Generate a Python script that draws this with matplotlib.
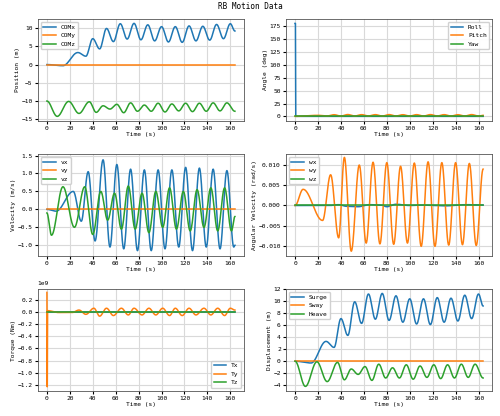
import matplotlib
matplotlib.use("Agg")
import matplotlib.pyplot as plt
import numpy as np

plt.rcParams["font.family"] = ["DejaVu Sans Mono"]
plt.rcParams["font.size"] = 4.5

# ── 数据：各曲线的极值点 (时间, 数值) ────────────────────────
comx_t = [0, 14, 27, 34, 40, 46, 52, 58, 64, 70, 76, 82, 88, 94, 100, 106, 112, 118, 124, 130, 136, 142, 148, 154, 160, 164]
comx_v = [0, -0.3, 3.3, 2.3, 7.1, 4.3, 9.9, 6.3, 11.2, 7.0, 11.3, 6.8, 10.9, 6.5, 10.4, 6.2, 10.4, 6.1, 10.6, 6.5, 10.5, 6.7, 11.0, 7.1, 11.2, 9.2]
heave_t = [0, 9, 19, 28, 37, 43, 49, 55, 61, 67, 73, 79, 85, 91, 97, 103, 109, 115, 121, 127, 133, 139, 145, 151, 157, 164]
heave_v = [0, -4.2, -0.1, -3.4, -0.2, -3.1, -1.3, -2.2, -0.9, -3.2, -0.5, -2.8, -1.1, -2.8, -0.6, -3.0, -0.8, -2.7, -0.6, -2.9, -0.6, -2.8, -0.5, -2.7, -0.5, -2.8]
vx_t = [0, 8, 23, 30, 36, 42, 49, 55, 61, 67, 73, 79, 85, 91, 97, 103, 109, 115, 121, 127, 133, 139, 145, 151, 157, 163, 164]
vx_v = [0, -0.05, 0.5, -0.33, 1.05, -0.88, 1.38, -1.05, 1.25, -1.1, 1.12, -1.15, 1.1, -1.15, 1.1, -1.1, 1.1, -1.05, 1.17, -1.15, 1.15, -1.05, 1.12, -1.1, 1.08, -1.05, -1.0]
vz_t = [0, 4, 14, 24, 33, 40, 47, 53, 59, 65, 71, 77, 83, 89, 95, 101, 107, 113, 119, 125, 131, 137, 143, 149, 155, 161, 164]
vz_v = [-0.1, -0.72, 0.63, -0.5, 0.63, -0.7, 0.5, -0.3, 0.45, -0.55, 0.65, -0.55, 0.45, -0.65, 0.5, -0.5, 0.6, -0.55, 0.5, -0.6, 0.55, -0.5, 0.6, -0.6, 0.6, -0.6, -0.2]
wy_t = [0, 7, 24, 31, 38, 43, 49, 56, 62, 68, 74, 80, 86, 92, 98, 104, 110, 116, 122, 128, 134, 140, 146, 152, 158, 164]
wy_v = [0, 0.004, -0.0037, 0.0076, -0.008, 0.0119, -0.0113, 0.010, -0.0093, 0.0107, -0.0095, 0.0106, -0.0096, 0.0097, -0.0093, 0.0105, -0.0101, 0.0108, -0.0101, 0.0106, -0.0098, 0.0106, -0.0097, 0.0104, -0.0099, 0.009]
wx_t = [0, 30, 38, 45, 55, 65, 75, 80, 88, 100, 110, 130, 150, 164]
wx_v = [0, 0, 0.0002, -0.0002, -0.0003, 0.0002, 0.0001, -0.0003, 0.0003, 0, 0.0001, -0.0001, 0.0002, 0.0001]
pitch_t = [0, 20, 28, 34, 40, 46, 52, 58, 64, 70, 76, 82, 88, 94, 100, 106, 112, 118, 124, 130, 136, 142, 148, 154, 160, 164]
pitch_v = [0, 2.0, 0.8, 3.2, 0.6, 3.5, 0.7, 3.3, 0.8, 3.3, 0.6, 3.4, 0.7, 3.2, 0.6, 3.3, 0.6, 3.4, 0.7, 3.3, 0.6, 3.2, 0.7, 3.4, 0.6, 2.0]
roll_t = [0, 0.3, 0.6, 164]
roll_v = [181, 181, 0, 0]
# Ty 单位 1e9 Nm
ty_t = [0, 0.3, 0.6, 10, 22, 28, 34, 41, 46, 52, 58, 65, 71, 76, 83, 89, 95, 101, 107, 112, 118, 124, 130, 137, 143, 149, 155, 160, 164]
ty_v = [0.32, -1.23, 0.02, -0.01, -0.01, 0.03, -0.04, 0.06, -0.07, 0.06, -0.06, 0.06, -0.05, 0.06, -0.05, 0.06, -0.05, 0.06, -0.06, 0.06, -0.06, 0.06, -0.05, 0.06, -0.05, 0.06, -0.06, 0.06, 0.03]


def smooth(tk, vk, n=40):
    """极值点之间用半余弦过渡连接。"""
    ts, vs = [], []
    for i in range(len(tk) - 1):
        s = np.linspace(0, 1, n, endpoint=False)
        w = (1 - np.cos(np.pi * s)) / 2
        ts.append(tk[i] + (tk[i + 1] - tk[i]) * s)
        vs.append(vk[i] + (vk[i + 1] - vk[i]) * w)
    ts.append([tk[-1]])
    vs.append([vk[-1]])
    return np.concatenate(ts), np.concatenate(vs)


T = [0, 164]
Z = [0, 0]
C = ["#1f77b4", "#ff7f0e", "#2ca02c"]

fig, axes = plt.subplots(3, 2, figsize=(5, 4.16), dpi=100)
fig.suptitle("RB Motion Data", fontsize=5.5, y=0.995)

panels = [
    ("Position (m)", [(comx_t, comx_v, "COMx"), (T, Z, "COMy"),
                      (heave_t, [v - 10 for v in heave_v], "COMz")], "upper left"),
    ("Angle (deg)", [(roll_t, roll_v, "Roll"), (pitch_t, pitch_v, "Pitch"), (T, Z, "Yaw")], "upper right"),
    ("Velocity (m/s)", [(vx_t, vx_v, "vx"), (T, Z, "vy"), (vz_t, vz_v, "vz")], "upper left"),
    ("Angular Velocity (rad/s)", [(wx_t, wx_v, "wx"), (wy_t, wy_v, "wy"), (T, Z, "wz")], "upper left"),
    ("Torque (Nm)", [(T, Z, "Tx"), (ty_t, [v * 1e9 for v in ty_v], "Ty"), (T, Z, "Tz")], "lower right"),
    ("Displacement (m)", [(comx_t, comx_v, "Surge"), (T, Z, "Sway"), (heave_t, heave_v, "Heave")], "upper left"),
]

for ax, (ylab, series, loc) in zip(axes.flat, panels):
    for (tk, vk, lab), c in zip(series, C):
        if len(tk) > 4:
            x, y = smooth(tk, vk)
        else:
            x, y = tk, vk
        ax.plot(x, y, color=c, lw=1.1, label=lab)
    ax.set_xlabel("Time (s)", labelpad=1)
    ax.set_ylabel(ylab, labelpad=1)
    ax.set_xticks(range(0, 161, 20))
    ax.grid(True, color="#d9d9d9", lw=0.8)
    ax.tick_params(length=2, pad=1.5)
    for sp in ax.spines.values():
        sp.set_color("#555555")
        sp.set_linewidth(0.6)
    ax.legend(loc=loc, fontsize=4.5, frameon=True, framealpha=0.9, edgecolor="#cccccc")
    ax.yaxis.get_offset_text().set_fontsize(4.5)

axes[1, 1].set_ylim(-0.0125, 0.0128)
axes[1, 0].set_ylim(-1.3, 1.55)
axes[2, 0].set_ylim(-1.3e9, 0.38e9)
axes[2, 0].set_yticks(np.arange(-1.2e9, 0.3e9, 0.2e9))
axes[2, 1].set_yticks(range(-4, 13, 2))

plt.subplots_adjust(left=0.075, right=0.985, top=0.955, bottom=0.06, hspace=0.32, wspace=0.2)
fig.savefig("out.png", dpi=100)
